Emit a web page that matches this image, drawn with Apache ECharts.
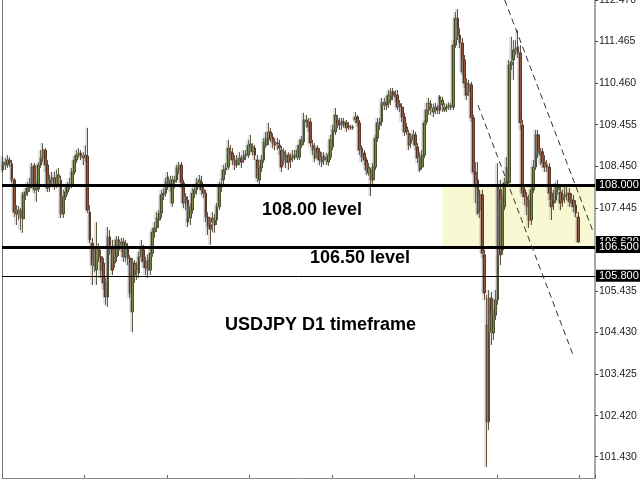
<!DOCTYPE html>
<html><head><meta charset="utf-8">
<script src="https://cdn.jsdelivr.net/npm/echarts@6/dist/echarts.min.js"></script>
<style>html,body{margin:0;padding:0;background:#fff}#c{width:640px;height:480px}</style>
</head><body><div id="c"></div>
<script>
const opens = [
108.36,108.55,108.48,108.60,108.51,108.12,107.34,107.30,107.39,107.18,
107.76,107.83,107.92,108.00,108.46,107.88,107.90,108.48,108.65,108.84,
108.48,107.95,108.12,108.17,108.00,108.17,108.12,107.30,107.71,107.83,
107.95,108.00,108.31,108.60,108.72,108.77,108.70,108.65,108.70,107.34,
106.59,106.04,105.94,106.50,106.26,106.11,105.63,105.29,106.74,106.50,
106.11,106.26,106.67,106.55,106.62,106.26,106.47,106.23,104.93,106.11,
105.94,105.87,106.26,106.43,106.14,106.18,105.94,106.35,106.86,106.96,
107.15,107.32,107.76,107.80,107.95,108.12,107.56,108.07,108.12,108.36,
108.48,108.05,107.71,107.63,107.20,107.39,107.80,107.88,108.05,108.07,
107.88,107.80,107.22,107.03,107.10,107.15,107.15,107.47,107.95,108.12,
108.36,108.43,108.80,108.77,108.60,108.48,108.60,108.65,108.60,108.70,
108.72,108.92,108.80,108.89,108.60,108.12,108.41,108.60,108.96,109.09,
109.28,109.16,109.04,109.01,108.96,108.84,108.60,108.72,108.72,108.65,
108.65,108.67,108.67,108.67,108.96,109.04,109.52,109.52,109.52,108.96,
108.65,108.89,108.80,108.67,108.70,108.60,108.55,108.67,108.92,109.28,
109.57,109.50,109.54,109.45,109.50,109.42,109.40,109.38,109.57,109.64,
109.50,108.89,108.77,108.60,108.29,108.36,108.12,108.43,109.13,109.52,
109.52,109.93,110.00,109.98,110.05,110.25,110.17,110.17,109.96,109.88,
109.64,109.40,109.25,109.01,109.09,109.21,108.92,108.67,108.43,108.72,
109.52,109.98,109.86,109.76,109.81,109.86,110.13,109.93,109.81,109.86,
109.88,109.91,109.88,111.38,112.03,111.62,111.43,111.02,110.46,110.25,
110.42,109.62,108.31,108.12,107.76,107.76,106.31,104.61,102.27,105.26,
104.42,104.85,105.22,107.88,106.43,107.47,108.05,108.05,110.90,111.02,
111.26,111.33,111.19,109.45,107.88,107.71,107.63,107.15,107.88,108.43,
109.21,108.80,108.80,108.55,108.48,108.43,107.80,107.63,107.63,107.88,
107.83,107.76,107.71,107.76,107.80,107.63,107.63,107.51,107.22];
const closes = [
108.55,108.48,108.60,108.53,108.12,107.34,107.30,107.39,107.20,107.76,
107.83,107.92,108.00,108.43,107.88,107.92,108.48,108.65,108.84,108.48,
107.92,108.12,108.17,108.00,108.17,108.24,107.30,107.71,107.83,107.95,
108.02,108.31,108.60,108.72,108.77,108.70,108.65,108.72,107.39,106.67,
106.06,106.14,106.50,106.23,105.94,105.63,105.29,106.74,106.50,105.94,
106.35,106.67,106.43,106.62,106.26,106.59,106.23,105.39,106.11,105.82,
106.06,106.26,106.50,106.14,105.99,105.94,106.35,106.86,106.96,107.20,
107.30,107.76,107.80,108.07,108.19,108.00,108.12,108.12,108.41,108.46,
108.05,107.56,107.56,107.10,107.47,107.80,107.88,108.05,108.12,107.88,
107.80,107.22,106.98,106.93,107.20,107.03,107.47,107.95,108.02,108.36,
108.41,108.89,108.72,108.60,108.48,108.60,108.65,108.55,108.70,108.75,
108.96,108.99,108.92,108.72,108.17,108.41,108.60,109.04,109.13,109.28,
109.13,109.01,108.96,108.99,108.89,108.43,108.80,108.55,108.55,108.60,
108.72,108.72,108.84,108.96,109.09,109.57,109.57,109.40,109.01,108.84,
108.89,108.77,108.60,108.55,108.60,108.67,108.72,109.09,109.33,109.69,
109.45,109.45,109.45,109.52,109.38,109.40,109.38,109.40,109.64,109.50,
108.84,108.67,108.60,108.36,108.43,108.12,108.43,109.13,109.50,109.45,
109.98,110.00,109.93,110.17,110.25,110.17,110.13,109.88,109.88,109.64,
109.28,109.28,108.96,109.16,109.21,108.96,108.65,108.36,108.72,109.50,
109.81,109.81,109.96,109.86,109.88,109.81,109.81,110.05,109.88,109.88,
109.93,109.88,111.38,112.03,111.58,111.43,110.73,110.46,110.17,110.44,
109.62,108.31,108.00,107.32,107.39,106.35,105.39,102.27,105.26,104.44,
104.85,105.22,108.00,106.31,107.63,108.05,108.43,110.90,110.97,111.26,
111.31,111.19,109.50,107.80,107.71,107.47,107.15,107.88,108.43,109.21,
108.77,108.72,108.53,108.43,108.43,107.80,107.47,107.56,107.95,107.95,
107.56,107.63,107.76,107.80,107.59,107.56,107.47,107.32,106.62];
const lows = [
108.31,108.36,108.41,108.43,108.05,107.22,107.03,107.15,106.91,106.84,
107.63,107.73,107.83,107.92,107.80,107.59,107.83,108.41,108.55,108.31,
107.83,107.83,107.97,107.88,107.92,108.00,107.20,107.20,107.63,107.76,
107.88,107.92,108.24,108.53,108.65,108.60,108.48,108.55,107.32,106.59,
105.58,105.89,105.58,106.14,105.75,105.46,105.10,105.05,106.31,105.82,
105.99,106.14,106.28,106.38,106.14,106.14,106.06,105.27,104.44,105.63,
105.70,105.75,106.14,105.99,105.82,105.75,105.82,106.26,106.72,106.86,
106.96,107.20,107.63,107.71,107.88,107.83,107.47,107.92,108.05,108.26,
107.92,107.44,107.39,106.98,107.03,107.30,107.68,107.76,107.92,107.76,
107.68,107.10,106.79,106.55,106.86,106.84,107.03,107.39,107.83,108.00,
108.24,108.36,108.60,108.48,108.36,108.41,108.48,108.41,108.53,108.60,
108.65,108.80,108.72,108.60,108.07,108.00,108.31,108.53,108.89,108.96,
109.04,108.89,108.84,108.84,108.72,108.31,108.48,108.41,108.36,108.41,
108.55,108.60,108.60,108.60,108.89,108.96,109.38,109.28,108.92,108.72,
108.55,108.60,108.48,108.43,108.48,108.48,108.46,108.60,108.84,109.21,
109.38,109.33,109.33,109.38,109.28,109.33,109.33,109.33,109.50,109.40,
108.72,108.55,108.48,108.24,108.22,107.73,108.00,108.36,109.04,109.33,
109.42,109.81,109.81,109.86,109.93,110.05,110.00,109.81,109.76,109.52,
109.18,109.21,108.84,108.89,108.96,108.84,108.53,108.31,108.36,108.65,
109.45,109.69,109.69,109.64,109.71,109.71,109.71,109.76,109.76,109.76,
109.81,109.81,109.81,111.31,111.50,111.31,110.66,110.34,110.05,110.15,
109.52,108.24,107.56,107.27,107.20,106.23,105.22,101.18,102.07,104.13,
104.25,104.73,105.10,106.06,106.31,107.39,108.00,107.95,110.78,110.54,
111.14,111.07,109.33,107.71,107.51,107.27,106.96,107.03,107.80,108.36,
108.65,108.48,108.41,108.31,108.31,107.63,107.15,107.39,107.56,107.76,
107.39,107.47,107.56,107.63,107.47,107.47,107.34,107.22,106.60];
const highs = [
108.70,108.65,108.72,108.67,108.60,108.17,107.51,107.49,107.44,107.83,
107.92,108.07,108.17,108.53,108.53,108.07,108.55,108.84,109.01,108.89,
108.60,108.24,108.31,108.31,108.36,108.41,108.22,107.88,107.97,108.07,
108.17,108.41,108.70,108.84,108.89,108.84,108.79,108.96,109.38,107.51,
106.72,106.43,107.10,106.59,106.43,106.23,105.75,106.98,106.91,106.67,
106.55,106.76,106.76,106.72,106.72,106.67,106.59,106.31,106.23,106.18,
106.14,106.38,106.67,106.55,106.26,106.31,106.47,106.96,107.10,107.34,
107.39,107.88,107.92,108.17,108.31,108.22,108.22,108.22,108.48,108.55,
108.55,108.12,107.80,107.73,107.56,107.92,108.00,108.17,108.24,108.22,
108.00,107.88,107.34,107.20,107.34,107.30,107.56,108.07,108.17,108.48,
108.53,109.09,108.96,108.89,108.72,108.72,108.79,108.72,108.84,108.84,
109.09,109.21,109.01,108.96,108.72,108.48,108.72,109.13,109.28,109.50,
109.38,109.25,109.13,109.13,109.09,108.94,108.89,108.84,108.79,108.77,
108.84,108.84,108.96,109.09,109.18,109.74,109.69,109.62,109.62,109.09,
109.01,108.96,108.89,108.79,108.79,108.77,108.79,109.21,109.45,109.86,
109.69,109.62,109.62,109.62,109.57,109.52,109.45,109.45,109.76,109.69,
109.57,108.96,108.84,108.67,108.53,108.41,108.53,109.21,109.62,109.62,
110.10,110.10,110.15,110.29,110.34,110.34,110.29,110.29,110.05,109.98,
109.74,109.50,109.33,109.25,109.33,109.28,109.01,108.79,108.84,109.57,
109.98,110.10,110.05,109.96,109.98,109.93,110.17,110.13,109.98,109.96,
110.00,109.98,111.50,112.18,112.25,111.79,111.55,111.14,110.58,110.54,
110.49,109.69,108.55,108.55,107.88,107.88,106.43,105.34,105.46,105.41,
104.97,105.46,108.53,108.12,107.76,108.17,108.67,111.02,111.58,111.50,
111.50,111.74,111.38,109.57,108.00,107.83,107.76,108.00,108.60,109.33,
109.33,108.89,108.89,108.72,108.60,108.53,108.00,107.88,108.05,108.12,
107.95,107.88,107.95,107.97,107.92,107.80,107.76,107.63,107.34];

const emptyBarsRight = 7;
const categories = [];
for (let i = 0; i < opens.length + emptyBarsRight; i++) categories.push(String(i));

const tickLabels = ['112.470','111.465','110.460','109.455','108.450','107.445','105.435','104.430','103.425','102.420','101.430'];
const tickValues = tickLabels.map(Number);

const levels = [108.000, 106.500];
const thinLevel = 105.800;
const currentPrice = 106.620;
const zoneStartBar = 197;
// dashed trend lines: [barIndex, price] pairs
const trendLines = [
  [[225, 112.47], [265, 106.82]],
  [[213, 109.93], [256, 103.84]]
];
const texts = ['108.00 level', '106.50 level', 'USDJPY D1 timeframe'];

const ohlc = opens.map((o, i) => [o, closes[i], lows[i], highs[i]]);

const boxLabel = {
  show: true, position: 'end', distance: 1,
  formatter: p => p.value.toFixed(3),
  backgroundColor: '#000', color: '#fff',
  fontFamily: 'Liberation Sans', fontSize: 11, padding: [1, 3, 0, 3]
};

const chart = echarts.init(document.getElementById('c'), null, {renderer: 'canvas'});
chart.setOption({
  animation: false,
  backgroundColor: '#fff',
  grid: {left: 2, right: 45, top: 0, bottom: 2, outerBoundsMode: 'none', containLabel: false},
  xAxis: {
    type: 'category', data: categories, boundaryGap: true,
    axisLine: {show: true, lineStyle: {color: '#888', width: 1}},
    axisTick: {show: true, inside: true, length: 3, interval: 36, lineStyle: {color: '#666'}},
    axisLabel: {show: false}, splitLine: {show: false}
  },
  yAxis: [{
    type: 'value', position: 'right', min: 100.913, max: 112.47,
    axisLine: {show: true, lineStyle: {color: '#888', width: 1.5}},
    axisTick: {show: true, length: 3, customValues: tickValues, lineStyle: {color: '#444'}},
    axisLabel: {show: true, customValues: tickValues, margin: 4, color: '#222',
      fontFamily: 'Liberation Sans', fontSize: 10.5, formatter: v => v.toFixed(3)},
    splitLine: {show: false}
  }, {
    type: 'value', position: 'left', min: 100.913, max: 112.47,
    axisLine: {show: true, lineStyle: {color: '#777', width: 1}},
    axisTick: {show: false}, axisLabel: {show: false}, splitLine: {show: false}
  }],
  series: [{
    type: 'line', data: [], z: 1, silent: true,
    markArea: {silent: true, itemStyle: {color: '#f8f8d2'},
      data: [[{xAxis: zoneStartBar, yAxis: levels[0]}, {xAxis: categories.length - 1, yAxis: levels[1]}]]}
  }, {
    type: 'candlestick', data: ohlc, z: 2, barWidth: 2.2,
    itemStyle: {
      color: '#6f8c18', color0: '#9c3f14',
      borderColor: '#2e3614', borderColor0: '#43200e', borderWidth: 0.8,
      shadowColor: 'rgba(140,140,140,0.6)', shadowOffsetX: -1.5, shadowBlur: 0
    }
  }, {
    type: 'line', data: [], z: 4, silent: true,
    markLine: {
      silent: true, symbol: ['none', 'none'],
      data: [
        {yAxis: currentPrice, lineStyle: {color: 'rgba(0,0,0,0)', width: 0}, label: boxLabel}
      ]
    }
  }, {
    type: 'line', data: [], z: 5, silent: true,
    markLine: {
      silent: true, symbol: ['none', 'none'],
      data: [
        {yAxis: levels[0], lineStyle: {color: '#000', width: 3, type: 'solid'}, label: boxLabel},
        {yAxis: levels[1], lineStyle: {color: '#000', width: 3, type: 'solid'}, label: boxLabel},
        {yAxis: thinLevel, lineStyle: {color: '#000', width: 1, type: 'solid'}, label: boxLabel},
        ...trendLines.map(t => [
          {coord: [t[0][0], t[0][1]], lineStyle: {color: '#333', width: 1, type: [6, 4]}, label: {show: false}},
          {coord: [t[1][0], t[1][1]]}
        ])
      ]
    }
  }],
  graphic: [
    {type: 'text', left: 262, top: 201, z: 10, style: {text: texts[0], font: 'bold 18px "Liberation Sans"', fill: '#000'}},
    {type: 'text', left: 310, top: 249, z: 10, style: {text: texts[1], font: 'bold 18px "Liberation Sans"', fill: '#000'}},
    {type: 'text', left: 225, top: 316, z: 10, style: {text: texts[2], font: 'bold 18px "Liberation Sans"', fill: '#000'}}
  ]
});
</script></body></html>
